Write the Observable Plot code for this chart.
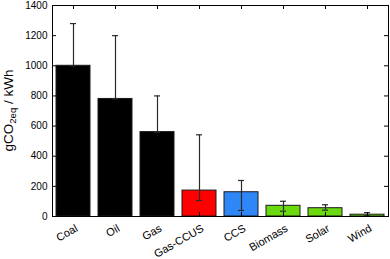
<!DOCTYPE html>
<html><head><meta charset="utf-8">
<script src="https://cdn.jsdelivr.net/npm/d3@7"></script>
<script src="https://cdn.jsdelivr.net/npm/@observablehq/plot@0.6"></script>
<style>body{margin:0;background:#fff} svg{display:block}</style>
</head><body><div id="chart"></div>
<script>
const categories = ["Coal", "Oil", "Gas", "Gas-CCUS", "CCS", "Biomass", "Solar", "Wind"];
const values = [1000, 780, 560, 172, 161, 71, 55, 12];
const errLow = [1000, 780, 560, 106, 40, 35, 42, 5];
const errHigh = [1280, 1200, 800, 542, 239, 101, 78, 26];
const colors = ["#000000", "#000000", "#000000", "#ff0000", "#2f86f6", "#6ad90e", "#6ad90e", "#6ad90e"];
const yTicks = [0, 200, 400, 600, 800, 1000, 1200, 1400];

const data = categories.map((c, i) => ({category: c, value: values[i], lo: errLow[i], hi: errHigh[i], color: colors[i]}));

const W = 390, H = 259, mt = 5, mr = 2, mb = 43, ml = 52;
const innerW = W - ml - mr, innerH = H - mt - mb;
const tickLen = 4;
const font = "'Liberation Sans', Arial, Helvetica, sans-serif";

const chart = Plot.plot({
  width: W, height: H,
  marginTop: mt, marginRight: mr, marginBottom: mb, marginLeft: ml,
  style: {fontFamily: font, fontSize: "10px", background: "#fff", color: "#000"},
  x: {domain: categories, paddingInner: 0.19, paddingOuter: 0.095, axis: null},
  y: {domain: [0, 1400], axis: null},
  color: {type: "identity"},
  marks: [
    Plot.barY(data, {x: "category", y: "value", fill: "color", stroke: "#1a1a1a", strokeWidth: 1}),
    Plot.ruleX(data, {x: "category", y1: "lo", y2: "hi", stroke: "#2b2b2b", strokeWidth: 1.2}),
    Plot.tickY(data, {x: "category", y: "hi", stroke: "#2b2b2b", strokeWidth: 1.2, insetLeft: 14, insetRight: 14}),
    Plot.tickY(data, {x: "category", y: "lo", stroke: "#2b2b2b", strokeWidth: 1.2, insetLeft: 14, insetRight: 14}),
    Plot.tickX(categories, {x: d => d, insetBottom: innerH - tickLen, stroke: "#000"}),
    Plot.tickX(categories, {x: d => d, insetTop: innerH - tickLen, stroke: "#000"}),
    Plot.tickY(yTicks, {y: d => d, insetRight: innerW - tickLen, stroke: "#000"}),
    Plot.tickY(yTicks, {y: d => d, insetLeft: innerW - tickLen, stroke: "#000"}),
    Plot.axisY(yTicks, {tickSize: 0, tickPadding: 5, label: null, fontSize: 10, tickFormat: d => String(d)}),
    Plot.text(categories, {x: d => d, frameAnchor: "bottom", dy: 14, dx: 5, rotate: -30, textAnchor: "end", lineAnchor: "bottom", fontSize: 11, fill: "#000"}),
    Plot.frame({stroke: "#000"})
  ]
});

const svg = d3.select(chart);
const lbl = svg.append("text")
  .attr("transform", `translate(13,${(mt + H - mb) / 2}) rotate(-90)`)
  .attr("text-anchor", "middle")
  .attr("fill", "#000")
  .style("font-family", font)
  .style("font-size", "13.5px");
lbl.append("tspan").text("gCO");
lbl.append("tspan").attr("dy", 3).style("font-size", "9.5px").text("2eq");
lbl.append("tspan").attr("dy", -3).text(" / kWh");

document.getElementById("chart").appendChild(chart);
</script>
</body></html>
